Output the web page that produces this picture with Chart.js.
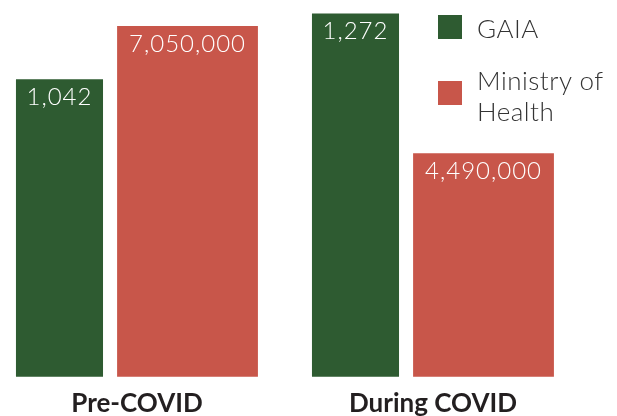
<!DOCTYPE html>
<html>
<head>
<meta charset="utf-8">
<script src="https://cdn.jsdelivr.net/npm/chart.js@4/dist/chart.umd.min.js"></script>
<style>
    html, body { margin: 0; padding: 0; background: #fff; }
    #wrap { position: relative; width: 617px; height: 416px; overflow: hidden; }
    #legend { position: absolute; left: 438px; top: 15px; font-family: Lato, "Open Sans", sans-serif; }
    .item { position: absolute; left: 0; white-space: nowrap; }
    .swatch { position: absolute; left: 0; top: 0; width: 24px; height: 24px; }
    .text { position: absolute; left: 39px; font-size: 26px; line-height: 31px; letter-spacing: 0.5px; color: #333; font-weight: 300; }
</style>
</head>
<body>
<div id="wrap">
    <!-- canvas is a bit taller than the frame so the axis labels sit at the very bottom -->
    <canvas id="chart" width="617" height="430"></canvas>
    <div id="legend"></div>
</div>
<script>
const periods = ['Pre-COVID', 'During COVID'];
const gaiaValues = [1042, 1272];
const mohValues = [7050000, 4490000];
const seriesNames = ['GAIA', ['Ministry of', 'Health']];
const seriesColors = ['#2e5b31', '#c8564a'];

// the two series are on separate hidden scales
const gaiaMax = 1270;
const mohMax = 7290000;

const valueLabels = {
    id: 'valueLabels',
    afterDatasetsDraw(chart) {
        const ctx = chart.ctx;
        ctx.save();
        ctx.font = '300 24px Lato, "Open Sans", sans-serif';
        ctx.letterSpacing = '1px';
        ctx.fillStyle = '#ffffff';
        ctx.textAlign = 'center';
        ctx.textBaseline = 'alphabetic';
        chart.data.datasets.forEach((ds, i) => {
            chart.getDatasetMeta(i).data.forEach((bar, j) => {
                ctx.fillText(ds.data[j].toLocaleString('en-US'), bar.x, bar.y + 26);
            });
        });
        ctx.restore();
    }
};

const chart = new Chart(document.getElementById('chart').getContext('2d'), {
    type: 'bar',
    data: {
        labels: periods,
        datasets: [{
            label: seriesNames[0],
            data: gaiaValues,
            backgroundColor: seriesColors[0],
            yAxisID: 'yGaia',
            barPercentage: 0.68,
            categoryPercentage: 0.865,
            clip: false
        }, {
            label: seriesNames[1],
            data: mohValues,
            backgroundColor: seriesColors[1],
            yAxisID: 'yMoh',
            barPercentage: 1.1,
            categoryPercentage: 0.865,
            clip: false
        }]
    },
    options: {
        responsive: false,
        animation: false,
        layout: {
            padding: { left: 123.5, right: 197.5, top: 14, bottom: 0 }
        },
        plugins: {
            legend: { display: false },
            tooltip: { enabled: false }
        },
        scales: {
            x: {
                offset: false,
                grid: { display: false, drawTicks: false },
                border: { display: false },
                ticks: {
                    color: '#231f20',
                    font: { family: 'Lato, "Open Sans", sans-serif', size: 26, weight: 'bold' },
                    padding: 11,
                    labelOffset: 13.5,
                    maxRotation: 0,
                    autoSkip: false
                }
            },
            yGaia: { display: false, min: 0, max: gaiaMax },
            yMoh: { display: false, min: 0, max: mohMax }
        }
    },
    plugins: [valueLabels]
});

// legend built from the datasets
const legendTops = [0, 66];
const textTops = [-2, -16];
const legend = document.getElementById('legend');
chart.data.datasets.forEach((ds, i) => {
    const item = document.createElement('div');
    item.className = 'item';
    item.style.top = legendTops[i] + 'px';
    const swatch = document.createElement('div');
    swatch.className = 'swatch';
    swatch.style.background = ds.backgroundColor;
    const text = document.createElement('div');
    text.className = 'text';
    text.style.top = textTops[i] + 'px';
    text.innerHTML = [].concat(ds.label).join('<br>');
    item.appendChild(swatch);
    item.appendChild(text);
    legend.appendChild(item);
});
</script>
</body>
</html>
